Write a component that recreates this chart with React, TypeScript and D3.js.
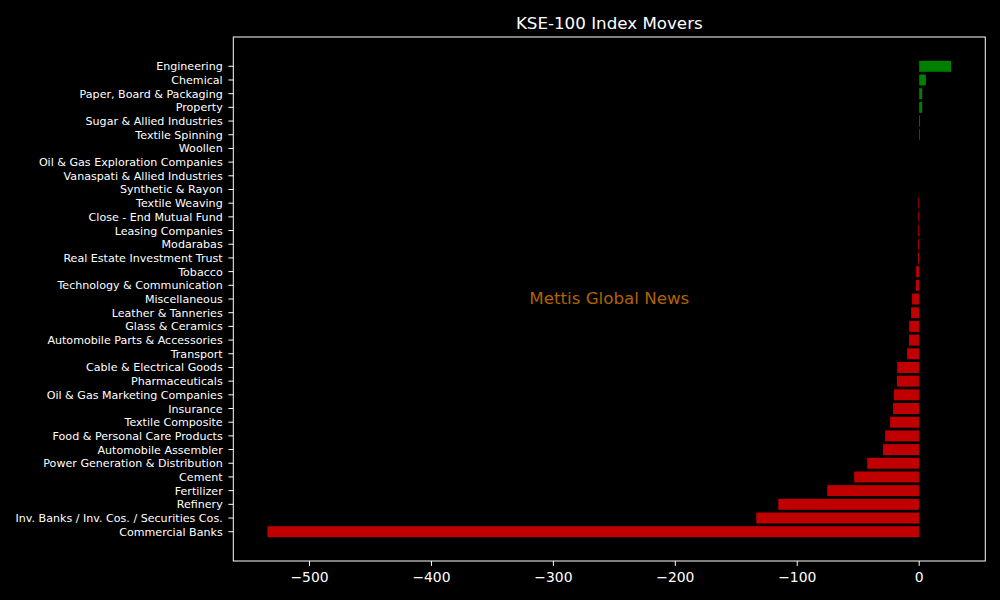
import React from "react";
import * as d3 from "d3";

// sectors listed top to bottom, as in the picture
const SECTORS = [
  "Engineering",
  "Chemical",
  "Paper, Board & Packaging",
  "Property",
  "Sugar & Allied Industries",
  "Textile Spinning",
  "Woollen",
  "Oil & Gas Exploration Companies",
  "Vanaspati & Allied Industries",
  "Synthetic & Rayon",
  "Textile Weaving",
  "Close - End Mutual Fund",
  "Leasing Companies",
  "Modarabas",
  "Real Estate Investment Trust",
  "Tobacco",
  "Technology & Communication",
  "Miscellaneous",
  "Leather & Tanneries",
  "Glass & Ceramics",
  "Automobile Parts & Accessories",
  "Transport",
  "Cable & Electrical Goods",
  "Pharmaceuticals",
  "Oil & Gas Marketing Companies",
  "Insurance",
  "Textile Composite",
  "Food & Personal Care Products",
  "Automobile Assembler",
  "Power Generation & Distribution",
  "Cement",
  "Fertilizer",
  "Refinery",
  "Inv. Banks / Inv. Cos. / Securities Cos.",
  "Commercial Banks",
];

// index points contributed by each sector
const POINTS = [
  26.2, 5.5, 2.5, 2.5, 0.7, 0.6, 0, 0, 0, 0,
  -0.7, -0.7, -0.8, -0.8, -0.9, -2.5, -2.6, -5.8, -6.6, -8.2,
  -8.3, -9.9, -18.0, -18.2, -20.6, -21.4, -23.8, -27.9, -29.6, -42.6,
  -53.3, -75.4, -115.6, -133.6, -534.5,
];

const X_TICKS = [-500, -400, -300, -200, -100, 0];

const W = 1000;
const H = 600;
const plot = { left: 233.3, right: 985.3, top: 37, bottom: 561 };
const FONT = "'DejaVu Sans', sans-serif";

export default function App() {
  const lo = d3.min(POINTS) as number;
  const hi = d3.max(POINTS) as number;
  const pad = (hi - lo) * 0.05;
  const x = d3.scaleLinear().domain([lo - pad, hi + pad]).range([plot.left, plot.right]);
  const n = SECTORS.length;
  const yPad = (n - 1 + 0.8) * 0.05 + 0.4;
  const y = d3.scaleLinear().domain([-yPad, n - 1 + yPad]).range([plot.top, plot.bottom]);
  const barH = y(0.8) - y(0);

  return (
    <div style={{ position: "fixed", left: 0, top: 0, width: W, height: H, background: "#000" }}>
      <svg width={W} height={H} style={{ display: "block" }} fontFamily={FONT}>
        <rect width={W} height={H} fill="#000" />
        <text x={(plot.left + plot.right) / 2} y={29} fill="#fff" fontSize={16.7} textAnchor="middle">
          KSE-100 Index Movers
        </text>

        {SECTORS.map((s, i) => {
          const v = POINTS[i];
          if (v === 0) return null;
          return (
            <rect
              key={s}
              x={Math.min(x(0), x(v))}
              y={y(i) - barH / 2}
              width={Math.abs(x(v) - x(0))}
              height={barH}
              fill={v > 0 ? "#008000" : "#c00000"}
            />
          );
        })}

        <text
          x={(plot.left + plot.right) / 2}
          y={304}
          fill="#b26200"
          fontSize={16.7}
          textAnchor="middle"
        >
          Mettis Global News
        </text>

        <rect
          x={plot.left}
          y={plot.top}
          width={plot.right - plot.left}
          height={plot.bottom - plot.top}
          fill="none"
          stroke="#fff"
          strokeWidth={1}
        />

        {SECTORS.map((s, i) => (
          <g key={s} transform={`translate(${plot.left},${y(i)})`}>
            <line x1={-4.9} x2={0} stroke="#fff" strokeWidth={1} />
            <text x={-10.6} dy="0.36em" fill="#fff" fontSize={11.1} textAnchor="end">
              {s}
            </text>
          </g>
        ))}

        {X_TICKS.map((t) => (
          <g key={t} transform={`translate(${x(t)},${plot.bottom})`}>
            <line y1={0} y2={4.9} stroke="#fff" strokeWidth={1} />
            <text y={20.5} fill="#fff" fontSize={13.9} textAnchor="middle">
              {t < 0 ? `\u2212${Math.abs(t)}` : t}
            </text>
          </g>
        ))}
      </svg>
    </div>
  );
}
